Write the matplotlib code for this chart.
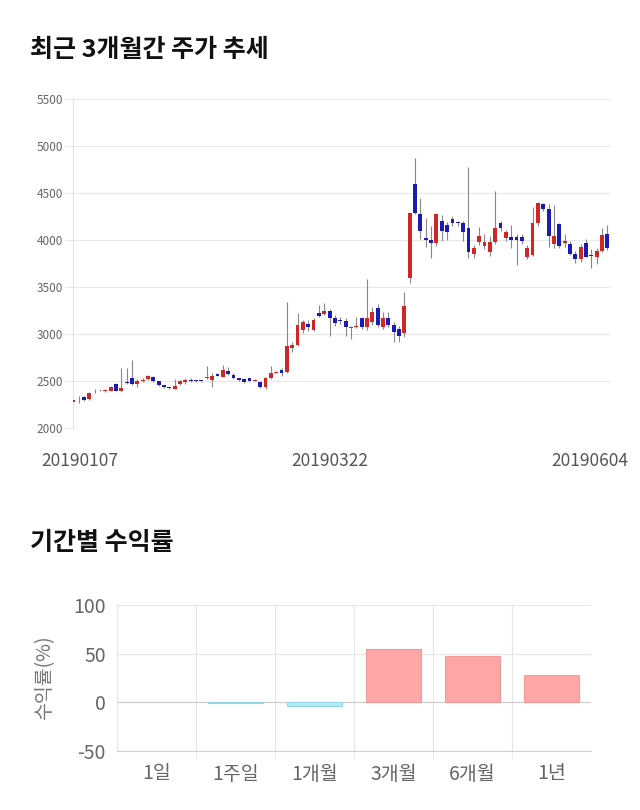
import numpy as np
import matplotlib.pyplot as plt

plt.rcParams['font.family'] = ['Noto Sans CJK KR', 'DejaVu Sans']
plt.rcParams['axes.unicode_minus'] = False

# daily candles, 2019-01-07 .. 2019-06-04 (won)
opens = [2278, 2280, 2335, 2310, 2400, 2408, 2390, 2395, 2470, 2397,
         2488, 2528, 2465, 2500, 2518, 2545, 2500, 2455, 2435, 2420,
         2470, 2485, 2515, 2502, 2502, 2530, 2510, 2575, 2547, 2610,
         2564, 2528, 2518, 2528, 2500, 2493, 2440, 2528, 2590, 2617,
         2592, 2848, 2883, 3043, 3103, 3043, 3227, 3210, 3245, 3167,
         3150, 3138, 3060, 3071, 3167, 3071, 3130, 3280, 3078, 3174,
         3096, 3050, 3007, 3593, 4596, 4277, 4020, 3995, 3966, 4200,
         4158, 4222, 4192, 4185, 4132, 3851, 3982, 3940, 3872, 3975,
         4178, 4021, 4028, 4028, 4030, 3816, 3840, 4178, 4384, 4327,
         3958, 4167, 3965, 3954, 3851, 3795, 3972, 3836, 3823, 3883,
         4060]
closes = [2295, 2272, 2295, 2375, 2408, 2400, 2400, 2440, 2397, 2425,
          2475, 2468, 2500, 2512, 2553, 2500, 2455, 2435, 2425, 2445,
          2495, 2515, 2495, 2498, 2498, 2537, 2550, 2558, 2614, 2570,
          2535, 2512, 2488, 2500, 2510, 2440, 2528, 2588, 2600, 2590,
          2872, 2883, 3100, 3128, 3071, 3149, 3195, 3245, 3167, 3120,
          3140, 3078, 3071, 3085, 3071, 3174, 3238, 3096, 3174, 3096,
          3018, 2982, 3298, 4288, 4291, 4100, 3995, 3968, 4277, 4092,
          4088, 4186, 4178, 4082, 3877, 3918, 4046, 3975, 3975, 4124,
          4132, 4082, 3995, 3995, 3993, 3912, 4178, 4391, 4327, 4046,
          4046, 3940, 3993, 3851, 3795, 3929, 3823, 3830, 3883, 4053,
          3912]
highs = [2300, 2345, 2340, 2385, 2415, 2415, 2410, 2450, 2480, 2635,
         2640, 2720, 2520, 2530, 2565, 2550, 2505, 2460, 2440, 2520,
         2510, 2530, 2530, 2510, 2505, 2660, 2590, 2580, 2670, 2650,
         2580, 2535, 2525, 2535, 2520, 2500, 2540, 2660, 2610, 2635,
         3344, 2918, 3227, 3149, 3149, 3170, 3309, 3333, 3270, 3200,
         3180, 3170, 3090, 3180, 3180, 3582, 3290, 3320, 3230, 3230,
         3130, 3080, 3444, 4290, 4870, 4444, 4231, 4150, 4290, 4270,
         4196, 4260, 4200, 4200, 4774, 3947, 4142, 4060, 4040, 4525,
         4200, 4110, 4160, 4060, 4060, 3950, 4355, 4400, 4395, 4380,
         4373, 4180, 4060, 3990, 3880, 3960, 4010, 3900, 3920, 4124,
         4160]
lows = [2270, 2262, 2285, 2300, 2370, 2395, 2385, 2390, 2390, 2390,
        2465, 2460, 2440, 2490, 2510, 2490, 2445, 2430, 2415, 2415,
        2460, 2470, 2490, 2490, 2490, 2520, 2436, 2550, 2540, 2560,
        2525, 2505, 2480, 2495, 2495, 2430, 2420, 2520, 2580, 2553,
        2580, 2812, 2872, 3007, 3030, 3030, 3180, 3200, 2982, 3090,
        3110, 2982, 2950, 3060, 3050, 3040, 3100, 3070, 3050, 3070,
        2918, 2918, 2971, 3546, 4280, 4010, 3929, 3812, 3940, 3990,
        4000, 4150, 4150, 3990, 3805, 3806, 3947, 3900, 3830, 3960,
        4100, 3990, 3912, 3734, 3960, 3800, 3830, 4150, 4310, 3929,
        3918, 3920, 3930, 3840, 3752, 3770, 3820, 3700, 3740, 3870,
        3890]
date_labels = ['20190107', '20190322', '20190604']

periods = ['1일', '1주일', '1개월', '3개월', '6개월', '1년']
returns = [0.0, -0.4, -3.8, 54.5, 47.9, 28.3]

o = np.array(opens)
c = np.array(closes)
x = np.arange(len(o))
up = c >= o

fig = plt.figure(figsize=(6.4, 8.1), dpi=100)
W, H = 640, 810

# price chart
ax1 = fig.add_axes([72.7/W, 1-428/H, (610-72.7)/W, (428-99)/H])
ax1.vlines(x, lows, highs, color='#888888', lw=0.8, zorder=2)
body_h = np.maximum(np.abs(c - o), 8)
ax1.bar(x, body_h, bottom=np.minimum(o, c), width=0.72,
        color=np.where(up, '#d02626', '#1a1ab4'), zorder=3)
ax1.set_xlim(-0.1, 100.5)
ax1.set_ylim(2000, 5500)
ax1.set_yticks(np.arange(2000, 5501, 500))
ax1.grid(axis='y', color='#e8e8e8', lw=0.8)
ax1.set_axisbelow(True)
for s in ['top', 'right', 'bottom']:
    ax1.spines[s].set_visible(False)
ax1.spines['left'].set_color('#e3e3e3')
ax1.tick_params(axis='y', length=6, color='#e8e8e8', labelsize=8.5,
                labelcolor='#666666', pad=1)
ax1.set_xticks([1.25, 48, 96.7])
ax1.set_xticklabels(date_labels)
ax1.tick_params(axis='x', length=0, labelsize=12.5, labelcolor='#555555', pad=17)

fig.text(30/W, 1-50/H, '최근 3개월간 주가 추세', fontsize=18, fontweight='bold',
         va='center', ha='left', color='#111111')
fig.text(30/W, 1-543/H, '기간별 수익률', fontsize=18, fontweight='bold',
         va='center', ha='left', color='#111111')

# returns chart
ax2 = fig.add_axes([117/W, 1-751/H, (591-117)/W, (751-605)/H])
rx = np.arange(len(periods))
ret = np.array(returns)
edges = np.where(ret > 0, '#f09999', np.where(ret < 0, '#95d6e6', 'none'))
ax2.bar(rx, ret, width=0.7,
        color=np.where(ret >= 0, '#ffa6a6', '#b5e9f3'),
        edgecolor=edges, lw=0.8, zorder=3)
ax2.set_xlim(-0.5, 5.5)
ax2.set_ylim(-50, 100)
ax2.set_yticks([-50, 0, 50, 100])
ax2.set_xticks(rx)
ax2.set_xticklabels(periods)
ax2.set_xticks(np.arange(0.5, 5, 1), minor=True)
ax2.grid(axis='y', color='#e6e6e6', lw=0.8)
ax2.grid(axis='x', which='minor', color='#e6e6e6', lw=0.8)
ax2.set_axisbelow(True)
for s in ['top', 'right']:
    ax2.spines[s].set_visible(False)
ax2.spines['left'].set_color('#e6e6e6')
ax2.spines['bottom'].set_color('#cfcfcf')
ax2.axhline(0, color='#cccccc', lw=0.8, zorder=2)
ax2.tick_params(axis='y', length=0, labelsize=14, labelcolor='#666666', pad=8)
ax2.tick_params(axis='x', which='major', length=0, labelsize=14,
                labelcolor='#666666', pad=9)
ax2.tick_params(axis='x', which='minor', length=6, color='#e6e6e6')
ax2.set_ylabel('수익률(%)', fontsize=14, color='#777777')
ax2.yaxis.set_label_coords(-0.13, 0.5)

fig.savefig('out.png', dpi=100)
